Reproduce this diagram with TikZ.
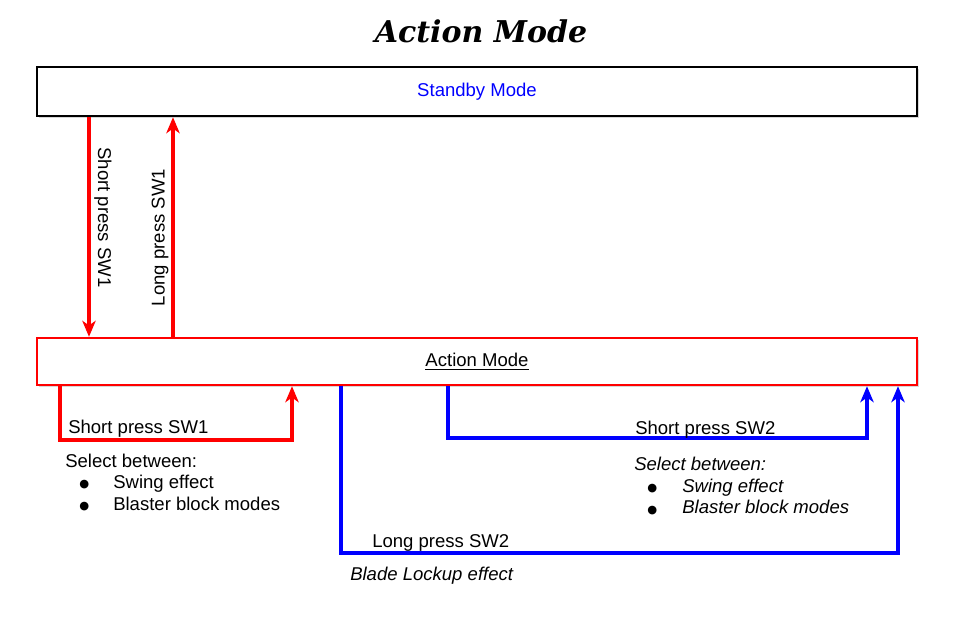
\documentclass[tikz,border=0pt]{standalone}
\usepackage{fontspec}
\setmainfont{Liberation Sans}
\newfontfamily\titlefont{DejaVu Serif}
\newfontfamily\dotfont{DejaVu Sans}
\usetikzlibrary{arrows.meta,shadows}

\begin{document}
\begin{tikzpicture}[x=0.75pt,y=-0.75pt,
  modebox/.style={draw,line width=1.8pt,minimum width=660pt,inner sep=0pt,fill=white,
    drop shadow={shadow xshift=1.5pt,shadow yshift=-1.5pt,opacity=0.35,fill=black!45}},
  redline/.style={red,line width=2.4pt,-{Stealth[length=12pt,width=10pt,inset=3.5pt]}},
  blueline/.style={blue,line width=2.4pt,-{Stealth[length=12pt,width=10pt,inset=3.5pt]}},
  txt/.style={font=\fontsize{13.9}{16}\selectfont,inner sep=0pt,anchor=base west},
  dot/.style={font=\dotfont\fontsize{8.5}{10}\selectfont,inner sep=0pt,anchor=base west},
  ]
\useasboundingbox (0,0) rectangle (960,619);

\node[font=\titlefont\bfseries\itshape\fontsize{22.5}{26}\selectfont,inner sep=0pt,anchor=base] (title) at (481,42) {Action Mode};

\node[modebox,minimum height=36.75pt,text=blue,font=\fontsize{13.9}{16}\selectfont] (standby) at (477,91.5) {Standby Mode};
\node[modebox,draw=red,minimum height=35.25pt,font=\fontsize{13.9}{16}\selectfont] (action) at (477,361.5) {\underline{Action Mode}};

% standby <-> action
\coordinate (sdown) at (89,0);
\coordinate (lup) at (173,0);
\draw[redline] (sdown |- standby.south) -- (sdown |- action.north);
\draw[redline] (lup |- action.north) -- (lup |- standby.south);
\node[txt,anchor=center,rotate=-90] (sdownlbl) at (103,217.5) {Short press SW1};
\node[txt,anchor=center,rotate=90] (luplbl) at (160,237.5) {Long press SW1};

% loops below action mode
\coordinate (sw1a) at (60,440);
\coordinate (sw1b) at (292,440);
\coordinate (sw2a) at (448,438);
\coordinate (sw2b) at (867,438);
\coordinate (lsw2a) at (341,553);
\coordinate (lsw2b) at (898,553);
\draw[redline] (sw1a |- action.south) -- (sw1a) -- (sw1b) -- (sw1b |- action.south);
\draw[blueline] (sw2a |- action.south) -- (sw2a) -- (sw2b) -- (sw2b |- action.south);
\draw[blueline] (lsw2a |- action.south) -- (lsw2a) -- (lsw2b) -- (lsw2b |- action.south);

\node[txt] (sw1lbl) at (68,433) {Short press SW1};
\node[txt] (sel1) at (65,467) {Select between:};
\node[dot] (dot1a) at (79,487) {●};
\node[dot] (dot1b) at (79,509) {●};
\node[txt] (swing1) at (113,488) {Swing effect};
\node[txt] (blaster1) at (113,510) {Blaster block modes};

\node[txt] (sw2lbl) at (635,434) {Short press SW2};
\node[txt,font=\fontsize{13.9}{16}\selectfont\itshape] (sel2) at (634,470) {Select between:};
\node[dot] (dot2a) at (647,491) {●};
\node[dot] (dot2b) at (647,513) {●};
\node[txt,font=\fontsize{13.9}{16}\selectfont\itshape] (swing2) at (682,492) {Swing effect};
\node[txt,font=\fontsize{13.9}{16}\selectfont\itshape] (blaster2) at (682,513) {Blaster block modes};

\node[txt] (lsw2lbl) at (372,547) {Long press SW2};
\node[txt,font=\fontsize{13.9}{16}\selectfont\itshape] (lockup) at (350,580) {Blade Lockup effect};

\end{tikzpicture}
\end{document}
